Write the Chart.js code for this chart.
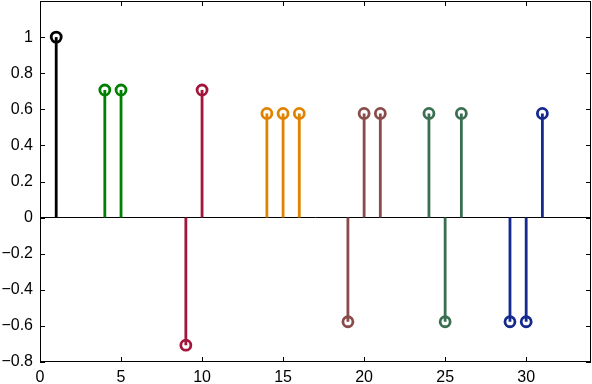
<!DOCTYPE html>
<html>
<head>
<meta charset="utf-8">
<script src="https://cdn.jsdelivr.net/npm/chart.js@4/dist/chart.umd.min.js"></script>
<style>
  html, body { margin: 0; padding: 0; background: #fff; }
  #wrap { width: 592px; height: 384px; }
</style>
</head>
<body>
<div id="wrap"><canvas id="stemChart"></canvas></div>
<script>
// Stem data
const stemX     = [1, 4, 5, 9, 10, 14, 15, 16, 19, 20, 21, 24, 25, 26, 29, 30, 31];
const stemY     = [1, 0.707, 0.707, -0.707, 0.707, 0.577, 0.577, 0.577, -0.577, 0.577, 0.577, 0.577, -0.577, 0.577, -0.577, -0.577, 0.577];
const stemGroup = [0, 1, 1, 2, 2, 3, 3, 3, 4, 4, 4, 5, 5, 5, 6, 6, 6];
const groupColors = ['#000000', '#008000', '#a3163c', '#e08300', '#8a4b4b', '#3b6f52', '#15298f'];
const xTicks = [0, 5, 10, 15, 20, 25, 30];
const yTicks = [-0.8, -0.6, -0.4, -0.2, 0, 0.2, 0.4, 0.6, 0.8, 1];

// one line dataset per group: base -> tip -> gap for each stem
const datasets = groupColors.map((color, g) => {
    const pts = [];
    stemX.forEach((x, i) => {
        if (stemGroup[i] !== g) return;
        pts.push({ x: x, y: 0 });
        pts.push({ x: x, y: stemY[i] });
        pts.push({ x: x, y: null });
    });
    return {
        data: pts,
        borderColor: color,
        borderWidth: 2.8,
        pointBorderColor: color,
        pointBackgroundColor: 'rgba(0,0,0,0)',
        pointBorderWidth: 2.8,
        pointRadius: ctx => (ctx.raw && ctx.raw.y !== 0 && ctx.raw.y !== null) ? 5 : 0,
        pointHoverRadius: 0,
        spanGaps: false,
        clip: false,
        tension: 0
    };
});

// box round the plot and inward tick marks on all four sides
const boxPlugin = {
    id: 'box',
    afterDraw(chart) {
        const c = chart.ctx, a = chart.chartArea;
        const xs = chart.scales.x, ys = chart.scales.y;
        c.save();
        c.strokeStyle = '#000';
        c.lineWidth = 1;
        c.strokeRect(a.left + 0.5, a.top + 0.5, a.right - a.left - 1, a.bottom - a.top - 1);
        c.beginPath();
        xTicks.forEach(v => {
            const px = Math.round(xs.getPixelForValue(v)) + 0.5;
            c.moveTo(px, a.bottom); c.lineTo(px, a.bottom - 5);
            c.moveTo(px, a.top); c.lineTo(px, a.top + 5);
        });
        yTicks.forEach(v => {
            const py = Math.round(ys.getPixelForValue(v)) + 0.5;
            c.moveTo(a.left, py); c.lineTo(a.left + 5, py);
            c.moveTo(a.right, py); c.lineTo(a.right - 5, py);
        });
        c.stroke();
        c.restore();
    }
};

new Chart(document.getElementById('stemChart'), {
    type: 'line',
    data: { datasets: datasets },
    plugins: [boxPlugin],
    options: {
        responsive: true,
        maintainAspectRatio: false,
        animation: false,
        layout: { padding: { top: 1, right: 1, left: 0, bottom: 0 } },
        plugins: {
            legend: { display: false },
            tooltip: { enabled: false }
        },
        scales: {
            x: {
                type: 'linear',
                min: 0,
                max: 34,
                afterBuildTicks: s => { s.ticks = xTicks.map(v => ({ value: v })); },
                afterFit: s => { s.height = 22; s.paddingLeft = 0; s.paddingRight = 0; },
                grid: { display: false, drawTicks: false },
                border: { display: false },
                ticks: {
                    color: '#000',
                    padding: 6,
                    font: { family: 'Liberation Sans', size: 16 },
                    callback: v => String(v)
                }
            },
            y: {
                type: 'linear',
                min: -0.8,
                max: 1.2,
                afterBuildTicks: s => { s.ticks = yTicks.map(v => ({ value: v })); },
                afterFit: s => { s.width = 40; s.paddingTop = 0; s.paddingBottom = 0; },
                grid: {
                    drawTicks: false,
                    lineWidth: 1,
                    color: ctx => (ctx.tick && Math.abs(ctx.tick.value) < 1e-9) ? '#000' : 'rgba(0,0,0,0)'
                },
                border: { display: false },
                ticks: {
                    color: '#000',
                    padding: 7,
                    font: { family: 'Liberation Sans', size: 16 },
                    callback: v => Math.abs(v) < 1e-9 ? '0' : String(Math.round(v * 10) / 10).replace('-', '\u2212')
                }
            }
        }
    }
});
</script>
</body>
</html>
